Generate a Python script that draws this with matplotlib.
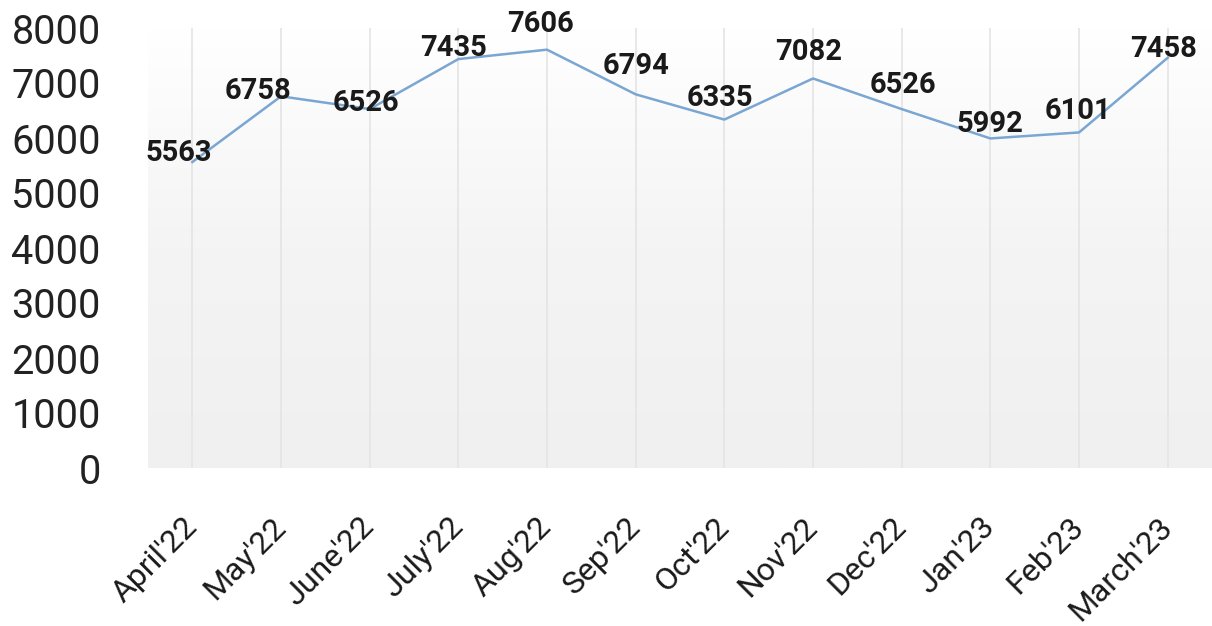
import matplotlib
matplotlib.use("Agg")
import matplotlib.pyplot as plt
import numpy as np
from matplotlib.colors import LinearSegmentedColormap

months = ["April'22", "May'22", "June'22", "July'22", "Aug'22", "Sep'22",
          "Oct'22", "Nov'22", "Dec'22", "Jan'23", "Feb'23", "March'23"]
values = [5563, 6758, 6526, 7435, 7606, 6794, 6335, 7082, 6526, 5992, 6101, 7458]
y_ticks = [0, 1000, 2000, 3000, 4000, 5000, 6000, 7000, 8000]

# label offsets in pixels (dx, dy) relative to each point
label_offsets = [(-14, 9), (-23, 5), (-4, 6), (-5, 11), (-7, 26), (0, 28),
                 (-4, 22), (-4, 26), (1, 24), (0, 14), (-1, 21), (-4, 9)]

plt.rcParams['font.family'] = ['Roboto', 'DejaVu Sans']

fig = plt.figure(figsize=(12.12, 6.26), dpi=100)
ax = fig.add_axes([148 / 1212, 1 - 468 / 626, (1212 - 148) / 1212, (468 - 28) / 626])

x = np.arange(len(months))
ax.set_xlim(-0.5, len(months) - 0.5)
ax.set_ylim(0, 8000)

# vertical background gradient: white at top fading into light gray
grad = np.linspace(0, 1, 256).reshape(-1, 1)
cmap = LinearSegmentedColormap.from_list("bg", ["#f0f0f0", "#f4f4f4", "#ffffff"], N=256)
ax.imshow(grad, aspect="auto", cmap=cmap, origin="lower",
          extent=(-0.5, len(months) - 0.5, 0, 8000), zorder=0)

ax.set_xticks(x)
ax.set_xticklabels(months, rotation=45, ha="right", va="center",
                   rotation_mode="anchor", fontsize=23, color="#1a1a1a")
ax.set_yticks(y_ticks)
ax.set_yticklabels([str(v) for v in y_ticks], fontsize=28.5, color="#222222")
ax.tick_params(axis="y", length=0, pad=34)
ax.tick_params(axis="x", length=0, pad=39)

ax.grid(axis="x", color="#e4e4e4", linewidth=1.2, zorder=1)
ax.grid(axis="y", visible=False)
for s in ax.spines.values():
    s.set_visible(False)

ax.plot(x, values, color="#7aa6d2", linewidth=1.8, zorder=3)

for xi, v, (dx, dy) in zip(x, values, label_offsets):
    ax.annotate(str(v), (xi, v), xytext=(dx, dy), textcoords="offset pixels",
                ha="center", va="center", fontsize=21, fontweight="bold",
                color="#1a1a1a", zorder=4)

fig.savefig("out.png", dpi=100, facecolor="white")
